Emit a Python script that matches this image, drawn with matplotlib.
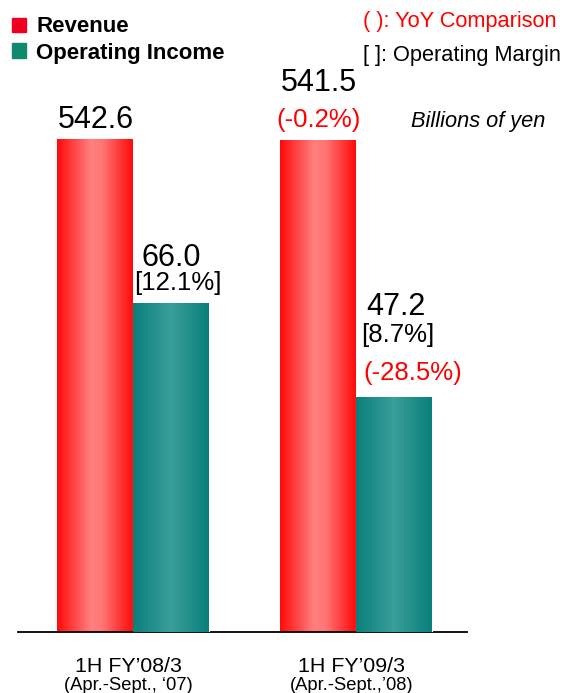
import numpy as np
import matplotlib
matplotlib.use("Agg")
import matplotlib.pyplot as plt
from matplotlib.colors import LinearSegmentedColormap

plt.rcParams['font.family'] = ['Liberation Sans', 'DejaVu Sans']

periods = ["1H FY\u201908/3", "1H FY\u201909/3"]
subperiods = ["(Apr.-Sept., \u201807)", "(Apr.-Sept.,\u201908)"]
revenue = [542.6, 541.5]
op_income = [66.0, 47.2]
margin = ["[12.1%]", "[8.7%]"]
rev_yoy = [None, "(-0.2%)"]
oi_yoy = [None, "(-28.5%)"]

W, H = 566, 693
fig = plt.figure(figsize=(W / 100, H / 100), dpi=100)
# axes: x from 18px to 467px, y from baseline 632px up to 100px
ax = fig.add_axes([18 / W, 1 - 632 / H, 449 / W, 532 / H])
ax2 = ax.twinx()

x = np.arange(len(periods))
w = 0.34
rev_bars = ax.bar(x - w / 2, revenue, w, color='#ff0000', edgecolor='none', zorder=1)
oi_bars = ax2.bar(x + w / 2, op_income, w, color='#0a7f7a', edgecolor='white', linewidth=0.8, zorder=1)

red_cmap = LinearSegmentedColormap.from_list('r', [(0, '#ff0a0a'), (0.45, '#ff8080'), (0.6, '#ff7575'), (1, '#ff0a0a')])
teal_cmap = LinearSegmentedColormap.from_list('t', [(0, '#0a7f7a'), (0.5, '#3a9e9a'), (1, '#0a7f7a')])
grad = np.linspace(0, 1, 256).reshape(1, -1)


def shade(axis, bars, cmap):
    for b in bars:
        x0, y0 = b.get_x(), b.get_y()
        im = axis.imshow(grad, cmap=cmap, aspect='auto', zorder=2,
                         extent=[x0, x0 + b.get_width(), y0, y0 + b.get_height()])
        im.set_clip_path(b)


shade(ax, rev_bars, red_cmap)
shade(ax2, oi_bars, teal_cmap)
ax.set_xlim(-0.516, 1.498)
ax.set_ylim(0, 542.6 * 532 / 493)
ax2.set_ylim(0, 66.0 * 532 / 329)

for a in (ax, ax2):
    for s in ('top', 'right', 'left'):
        a.spines[s].set_visible(False)
    a.set_yticks([])
    a.set_xticks([])
ax2.spines['bottom'].set_visible(False)
ax.spines['bottom'].set_linewidth(1.3)

# value labels
for i, b in enumerate(rev_bars):
    cx = b.get_x() + b.get_width() / 2
    if rev_yoy[i]:
        ax.annotate(f"{revenue[i]:.1f}", (cx, revenue[i]), xytext=(1, 57), textcoords='offset pixels',
                    ha='center', va='center', fontsize=22)
        ax.annotate(rev_yoy[i], (cx, revenue[i]), xytext=(0, 20), textcoords='offset pixels',
                    ha='center', va='center', fontsize=18.5, color='#ff0000')
    else:
        ax.annotate(f"{revenue[i]:.1f}", (cx, revenue[i]), xytext=(1, 19), textcoords='offset pixels',
                    ha='center', va='center', fontsize=22)

for i, b in enumerate(oi_bars):
    cx = b.get_x() + b.get_width() / 2
    if oi_yoy[i]:
        ax2.annotate(f"{op_income[i]:.1f}", (cx, op_income[i]), xytext=(2, 90), textcoords='offset pixels',
                     ha='center', va='center', fontsize=22)
        ax2.annotate(margin[i], (cx, op_income[i]), xytext=(4, 62), textcoords='offset pixels',
                     ha='center', va='center', fontsize=18.5)
        ax2.annotate(oi_yoy[i], (cx, op_income[i]), xytext=(19, 24), textcoords='offset pixels',
                     ha='center', va='center', fontsize=18.5, color='#ff0000')
    else:
        ax2.annotate(f"{op_income[i]:.1f}", (cx, op_income[i]), xytext=(0, 45), textcoords='offset pixels',
                     ha='center', va='center', fontsize=22)
        ax2.annotate(margin[i], (cx, op_income[i]), xytext=(7, 20), textcoords='offset pixels',
                     ha='center', va='center', fontsize=18.5)

# category labels
for i in range(len(periods)):
    ax.text(x[i] - 0.02, -34 / 532, periods[i], transform=ax.get_xaxis_transform(),
            ha='center', va='center', fontsize=15.4)
    ax.text(x[i] - 0.02, -53 / 532, subperiods[i], transform=ax.get_xaxis_transform(),
            ha='center', va='center', fontsize=13.2)

# legend
fig.patches.append(plt.Rectangle((12 / W, 1 - 32 / H), 14 / W, 14 / H, transform=fig.transFigure,
                                 color='#ee0022', figure=fig))
fig.patches.append(plt.Rectangle((12 / W, 1 - 58 / H), 14 / W, 15 / H, transform=fig.transFigure,
                                 color='#0f8a6e', figure=fig))
fig.text(36 / W, 1 - 26 / H, "Revenue", fontsize=16, fontweight='bold', va='center')
fig.text(36 / W, 1 - 53 / H, "Operating Income", fontsize=16, fontweight='bold', va='center')
fig.text(363 / W, 1 - 21 / H, "( ): YoY Comparison", fontsize=15.7, color='#ff0000', va='center')
fig.text(363 / W, 1 - 55 / H, "[ ]: Operating Margin", fontsize=15.7, va='center')
fig.text(545 / W, 1 - 121 / H, "Billions of yen", fontsize=15.7, style='italic', ha='right', va='center')

fig.savefig("out.png", dpi=100)
